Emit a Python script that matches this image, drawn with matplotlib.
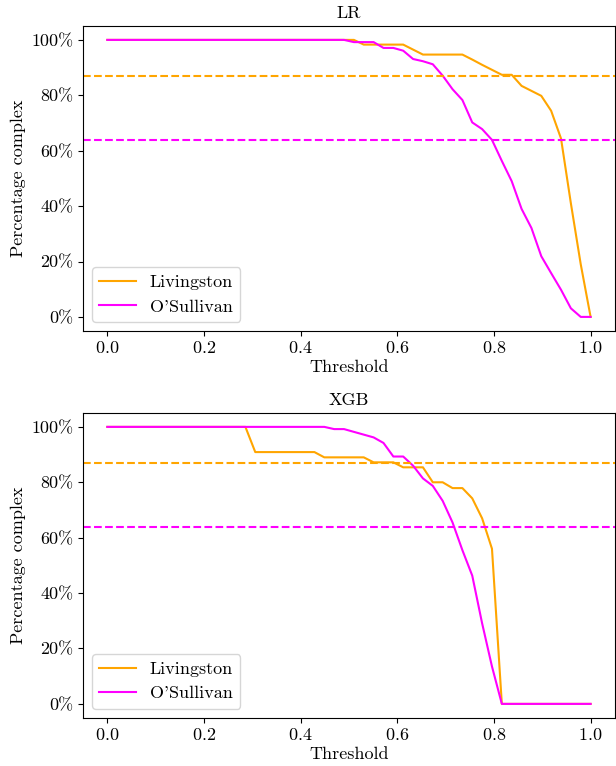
import numpy as np
import matplotlib
matplotlib.use("Agg")
import matplotlib.pyplot as plt
from matplotlib.ticker import PercentFormatter

plt.rcParams['font.family'] = 'serif'
plt.rcParams['font.serif'] = ['cmr10']
plt.rcParams['axes.formatter.use_mathtext'] = True
plt.rcParams['font.size'] = 13

# thresholds swept 0..1 in 50 steps
thresholds = np.linspace(0, 1, 50)

# LR model
lr_livingston = [100]*26 + [98.3, 98.3, 98.3, 98.3, 98.3, 96.5, 94.7, 94.7, 94.7, 94.7,
                            94.7, 92.9, 91.0, 89.2, 87.4, 87.4, 83.4, 81.6, 79.8, 74.4,
                            64.4, 41.0, 19.0, 0]
lr_osullivan = [100]*25 + [99.2, 99.2, 99.2, 97.1, 97.1, 96.1, 93.1, 92.3, 91.2, 87.1,
                           82.2, 78.3, 70.2, 67.8, 63.9, 56.3, 49.0, 39.0, 32.1, 21.9,
                           15.8, 9.8, 3.1, 0, 0]

# XGB model
xgb_livingston = [100]*15 + [90.9, 90.9, 90.9, 90.9, 90.9, 90.9, 90.9, 89.0, 89.0, 89.0,
                             89.0, 89.0, 87.2, 87.2, 87.2, 85.4, 85.4, 85.4, 80.0, 80.0,
                             77.9, 77.9, 74.2, 67.0, 56.0] + [0]*10
xgb_osullivan = [100]*23 + [99.2, 99.2, 98.2, 97.2, 96.2, 94.2, 89.3, 89.3, 86.0, 81.4,
                            78.7, 73.3, 65.5, 55.5, 46.3, 29.1, 13.5] + [0]*10

livingston_ref = 87
osullivan_ref = 64

panels = [("LR", lr_livingston, lr_osullivan), ("XGB", xgb_livingston, xgb_osullivan)]

fig, axes = plt.subplots(2, 1, figsize=(6.16, 7.66), dpi=100)
fig.subplots_adjust(left=0.135, right=0.998, top=0.966, bottom=0.063, hspace=0.27)

for ax, (title, liv, osu) in zip(axes, panels):
    ax.plot(thresholds, liv, color='orange', lw=1.5, label='Livingston')
    ax.plot(thresholds, osu, color='magenta', lw=1.5, label="O'Sullivan")
    ax.axhline(livingston_ref, color='orange', ls='--', lw=1.5)
    ax.axhline(osullivan_ref, color='magenta', ls='--', lw=1.5)
    ax.yaxis.set_major_formatter(PercentFormatter(xmax=100, decimals=0))
    ax.set_title(title, fontsize=13)
    ax.set_xlabel('Threshold', labelpad=2)
    ax.set_ylabel('Percentage complex')
    ax.legend(loc='lower left')

plt.savefig('out.png')
